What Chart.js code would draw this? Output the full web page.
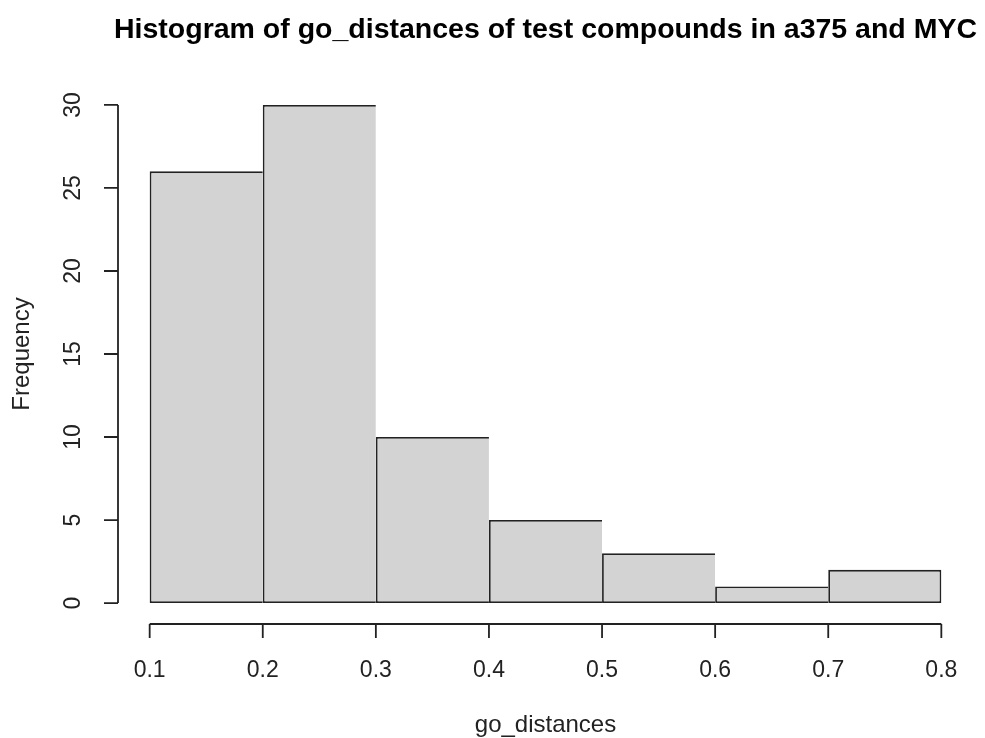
<!DOCTYPE html>
<html>
<head>
<meta charset="utf-8">
<script src="https://cdn.jsdelivr.net/npm/chart.js@4"></script>
<style>
  html, body { margin: 0; padding: 0; background: #fff; }
  #wrap { width: 985px; height: 738px; }
</style>
</head>
<body>
<div id="wrap"><canvas id="chart" width="985" height="738"></canvas></div>
<script>
// histogram of go_distances, bins of width 0.1
const binMids = [0.15, 0.25, 0.35, 0.45, 0.55, 0.65, 0.75]
const counts = [26, 30, 10, 5, 3, 1, 2]
const xTicks = [0.1, 0.2, 0.3, 0.4, 0.5, 0.6, 0.7, 0.8]
const xTickLabels = ["0.1", "0.2", "0.3", "0.4", "0.5", "0.6", "0.7", "0.8"]
const yTicks = [0, 5, 10, 15, 20, 25, 30]
const yTickLabels = ["0", "5", "10", "15", "20", "25", "30"]

const titleText = "Histogram of go_distances of test compounds in a375 and MYC"
const xTitle = "go_distances"
const yTitle = "Frequency"

const font = "'Liberation Sans', Arial, sans-serif"
const ink = "#222"
const lw = 1.8

// R-style axes: detached, spanning first to last tick only
const rAxes = {
  id: "rAxes",
  afterDraw(chart) {
    const { ctx, chartArea, scales } = chart
    const x = scales.x
    const y = scales.y
    const tick = 14
    ctx.save()
    ctx.strokeStyle = ink
    ctx.fillStyle = ink
    ctx.lineWidth = lw

    // x axis
    const ax = chartArea.bottom + 1
    ctx.beginPath()
    ctx.moveTo(x.getPixelForValue(xTicks[0]), ax)
    ctx.lineTo(x.getPixelForValue(xTicks[xTicks.length - 1]), ax)
    xTicks.forEach(v => {
      const px = x.getPixelForValue(v)
      ctx.moveTo(px, ax)
      ctx.lineTo(px, ax + tick)
    })
    ctx.stroke()
    ctx.font = "23px " + font
    ctx.textAlign = "center"
    ctx.textBaseline = "alphabetic"
    xTicks.forEach((v, i) => {
      ctx.fillText(xTickLabels[i], x.getPixelForValue(v), 677)
    })

    // y axis
    const ay = chartArea.left
    ctx.beginPath()
    ctx.moveTo(ay, y.getPixelForValue(yTicks[0]))
    ctx.lineTo(ay, y.getPixelForValue(yTicks[yTicks.length - 1]))
    yTicks.forEach(v => {
      const py = y.getPixelForValue(v)
      ctx.moveTo(ay, py)
      ctx.lineTo(ay - tick, py)
    })
    ctx.stroke()
    yTicks.forEach((v, i) => {
      ctx.save()
      ctx.translate(80, y.getPixelForValue(v))
      ctx.rotate(-Math.PI / 2)
      ctx.fillText(yTickLabels[i], 0, 0)
      ctx.restore()
    })

    // titles
    const cx = (chartArea.left + chartArea.right) / 2
    const cy = (chartArea.top + chartArea.bottom) / 2
    ctx.fillStyle = "#000"
    ctx.font = "bold 28.5px " + font
    ctx.fillText(titleText, cx, 38)
    ctx.fillStyle = ink
    ctx.font = "24px " + font
    ctx.fillText(xTitle, cx, 732)
    ctx.save()
    ctx.translate(29, cy)
    ctx.rotate(-Math.PI / 2)
    ctx.fillText(yTitle, 0, 0)
    ctx.restore()
    ctx.restore()
  }
}

const last = counts.length - 1

new Chart(document.getElementById("chart"), {
  type: "bar",
  data: {
    datasets: [
      {
        data: binMids.map((m, i) => ({ x: m, y: counts[i] })),
        backgroundColor: "#d3d3d3",
        borderColor: ink,
        borderWidth: c => ({ top: lw, bottom: lw, left: lw, right: c.dataIndex === last ? lw : 0 }),
        borderSkipped: false,
        barPercentage: 1,
        categoryPercentage: 1,
        inflateAmount: 0,
      },
    ],
  },
  options: {
    responsive: false,
    animation: false,
    events: [],
    layout: {
      padding: { left: 118, right: 12, top: 85, bottom: 115 },
    },
    plugins: {
      legend: { display: false },
      tooltip: { enabled: false },
    },
    scales: {
      x: { type: "linear", offset: false, min: 0.072, max: 0.828, display: false },
      y: { type: "linear", min: -1.2, max: 31.2, display: false },
    },
  },
  plugins: [rAxes],
})
</script>
</body>
</html>
